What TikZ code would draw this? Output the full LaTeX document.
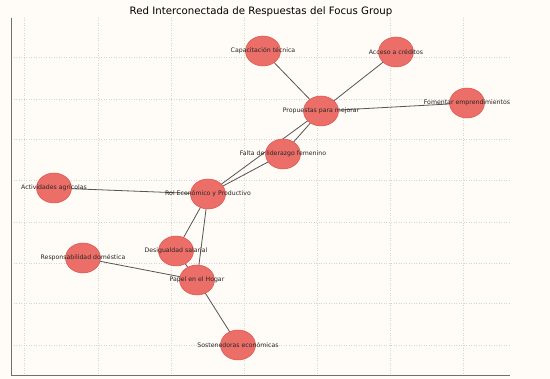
\documentclass[tikz,border=0pt]{standalone}
\usepackage{fontspec}
\setmainfont{DejaVu Sans}
\usetikzlibrary{shapes.geometric}
\pgfdeclarelayer{bg}
\pgfdeclarelayer{edges}
\pgfsetlayers{bg,edges,main}
\definecolor{bgc}{HTML}{FFFBF7}
\definecolor{nodefill}{HTML}{EC6E68}
\definecolor{nodeedge}{HTML}{D9554F}
\definecolor{edgec}{HTML}{555555}
\definecolor{gridc}{HTML}{D8D4D0}
\definecolor{spinec}{HTML}{707070}
\tikzset{
  x=1pt, y=-1pt,
  ent/.style={ellipse, minimum width=35pt, minimum height=30pt, inner sep=0pt, fill=nodefill, draw=nodeedge, line width=0.5pt},
  lbl/.style={font=\fontsize{6.2}{7}\selectfont, text=black!85, inner sep=0pt},
  conn/.style={draw=edgec, line width=0.8pt},
  gridline/.style={draw=gridc, line width=0.5pt, dotted},
  spine/.style={draw=spinec, line width=1pt}
}
\begin{document}
\begin{tikzpicture}
\begin{pgfonlayer}{bg}
\fill[bgc] (0,0) rectangle (550,379);
\foreach \gx in {24.5,98,171,244.5,317.5,390,463} \draw[gridline] (\gx,18) -- (\gx,376);
\foreach \gy in {57,99,139,180,222,263,303,345} \draw[gridline] (11,\gy) -- (510,\gy);
\draw[spine] (11,18) -- (11,376) -- (510,376);
\end{pgfonlayer}
\useasboundingbox (0,0) rectangle (550,379);
% title
\node[font=\fontsize{10.2}{12}\selectfont, inner sep=0pt] (title) at (261,12) {Red Interconectada de Respuestas del Focus Group};
% nodes
\node[ent, label={[lbl]center:Capacitación técnica}] (cap) at (263,51) {};
\node[ent, label={[lbl]center:Acceso a créditos}] (acc) at (396,52) {};
\node[ent, label={[lbl]center:Propuestas para mejorar}] (pro) at (321,111) {};
\node[ent, label={[lbl]center:Fomentar emprendimientos}] (fom) at (467,103) {};
\node[ent, label={[lbl]center:Falta de liderazgo femenino}] (fal) at (283,154) {};
\node[ent, label={[lbl]center:Actividades agrícolas}] (act) at (54,188) {};
\node[ent, label={[lbl]center:Rol Económico y Productivo}] (rol) at (208,194) {};
\node[ent, label={[lbl]center:Desigualdad salarial}] (des) at (176,251) {};
\node[ent, label={[lbl]center:Responsabilidad doméstica}] (res) at (83,258) {};
\node[ent, label={[lbl]center:Papel en el Hogar}] (pap) at (197,280) {};
\node[ent, label={[lbl]center:Sostenedoras económicas}] (sos) at (238,345) {};
% edges
\begin{pgfonlayer}{edges}
\draw[conn] (cap.center) -- (pro.center);
\draw[conn] (acc.center) -- (pro.center);
\draw[conn] (fom.center) -- (pro.center);
\draw[conn] (fal.center) -- (pro.center);
\draw[conn] (rol.center) -- (pro.center);
\draw[conn] (rol.center) -- (fal.center);
\draw[conn] (act.center) -- (rol.center);
\draw[conn] (rol.center) -- (des.center);
\draw[conn] (rol.center) -- (pap.center);
\draw[conn] (des.center) -- (pap.center);
\draw[conn] (res.center) -- (pap.center);
\draw[conn] (pap.center) -- (sos.center);
\end{pgfonlayer}
\end{tikzpicture}
\end{document}
